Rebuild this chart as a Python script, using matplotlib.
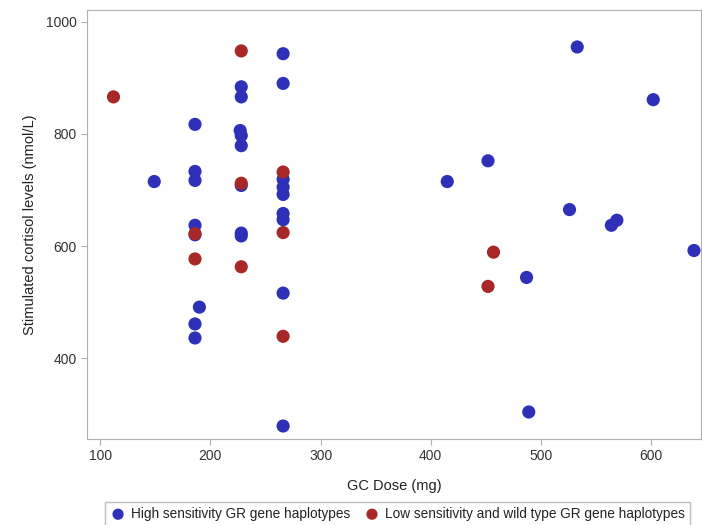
import matplotlib
matplotlib.use("Agg")
import matplotlib.pyplot as plt

plt.rcParams['font.family'] = ['Liberation Sans', 'DejaVu Sans']

# High sensitivity GR gene haplotypes
high_dose = [149, 186, 186, 186, 186, 186, 190, 186, 186,
             228, 228, 227, 228, 228, 228, 228, 228,
             266, 266, 266, 266, 266, 266, 266, 266, 266,
             533, 602, 452, 415, 526, 569, 564, 639, 487, 489]
high_cort = [715, 817, 733, 717, 637, 620, 491, 461, 436,
             884, 866, 806, 797, 779, 708, 623, 618,
             943, 890, 719, 705, 692, 658, 647, 516, 279,
             955, 861, 752, 715, 665, 646, 637, 592, 544, 304]

# Low sensitivity and wild type GR gene haplotypes
low_dose = [112, 228, 228, 186, 186, 228, 266, 266, 266, 457, 452]
low_cort = [866, 948, 712, 622, 577, 563, 732, 624, 439, 589, 528]

blue = "#2E31B8"
red = "#A82828"
grey = "#B0B0B0"

fig = plt.figure(figsize=(7.02, 5.25), dpi=100)
ax = fig.add_axes([0.124, 0.164, 0.874, 0.817])

ax.scatter(high_dose, high_cort, s=90, color=blue, edgecolors="none",
           label="High sensitivity GR gene haplotypes")
ax.scatter(low_dose, low_cort, s=90, color=red, edgecolors="none",
           label="Low sensitivity and wild type GR gene haplotypes")

ax.set_xlim(88, 645)
ax.set_ylim(256, 1021)
ax.set_xticks([100, 200, 300, 400, 500, 600])
ax.set_yticks([400, 600, 800, 1000])

for sp in ax.spines.values():
    sp.set_color(grey)
ax.tick_params(colors="#333333", labelsize=10, length=4, color=grey)

ax.set_xlabel("GC Dose (mg)", fontsize=10.5, color="#222222", labelpad=11)
ax.set_ylabel("Stimulated cortisol levels (nmol/L)", fontsize=10.5,
              color="#222222", labelpad=6)

leg = fig.legend(loc="lower center", bbox_to_anchor=(0.566, -0.014), ncol=2,
                 fontsize=9.8, frameon=True, fancybox=False, markerscale=0.85,
                 handletextpad=0.35, columnspacing=1.0, borderpad=0.35,
                 handlelength=1.2)
leg.get_frame().set_edgecolor(grey)
for t in leg.get_texts():
    t.set_color("#222222")

fig.savefig("out.png", dpi=100)
